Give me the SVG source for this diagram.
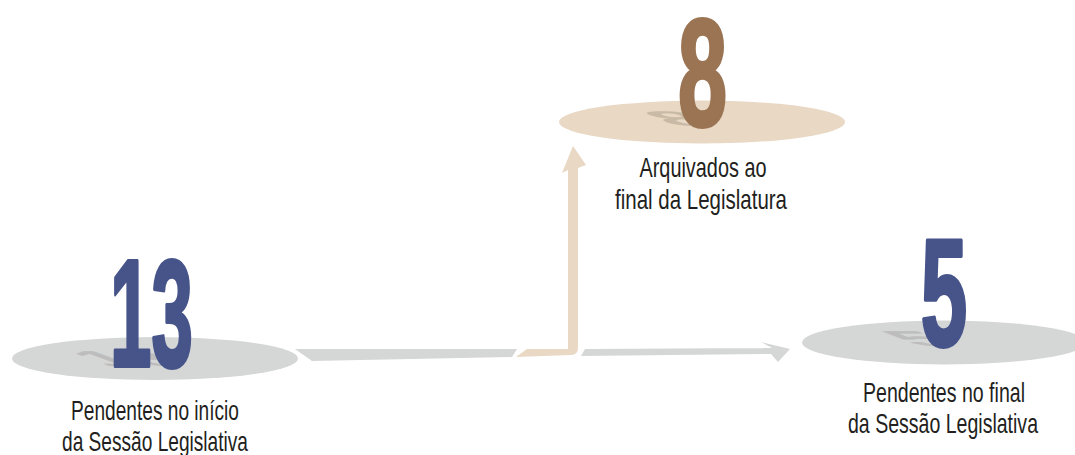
<svg xmlns="http://www.w3.org/2000/svg" width="1075" height="455" viewBox="0 0 1075 455">
  <style>
    .gray { fill: #d5d6d6; }
    .tan { fill: #e8d8c4; }
    .digit { font-family: "Liberation Sans", Arial, sans-serif; font-weight: bold; font-size: 152px; text-anchor: middle; }
    .blue { fill: #46548a; stroke: #46548a; stroke-width: 4; stroke-linejoin: round; }
    .brown { fill: #9a7453; stroke: #9a7453; stroke-width: 4; stroke-linejoin: round; }
    .shadow-g { fill: #b9b9b9; opacity: 0.85; }
    .shadow-t { fill: #c4b5a1; opacity: 0.85; }
    .label { font-family: "Liberation Sans", Arial, sans-serif; font-size: 28px; fill: #231f20; text-anchor: middle; }
  </style>
  <rect width="1075" height="455" fill="#ffffff"/>
  <g id="connectors">
    <path class="gray" d="M 295 349 L 517 349 L 512 357 L 312 361 Z"/>
    <path class="tan" d="M 516 357 L 527 349 L 568 349 L 568 170 L 562 173 L 573 146 L 586 165 L 578 168 L 578 348 Q 578 355 571 355 Z"/>
    <path class="gray" d="M 581 356 L 585 349 L 772 348 L 761 342 L 790 349 L 778 362 L 771 354 Z"/>
  </g>
  <g id="node-start">
    <ellipse class="gray" cx="155" cy="358.5" rx="143" ry="21.5"/>
    <text class="digit shadow-g" transform="translate(148,366) matrix(0.52,0,0.38,0.14,0,0)" x="0" y="0">13</text>
    <text class="digit blue" transform="translate(151.5,366) scale(0.49,1)" x="0" y="0">13</text>
    <text class="label" x="155" y="420" textLength="168" lengthAdjust="spacingAndGlyphs">Pendentes no início</text>
    <text class="label" x="155" y="451" textLength="186" lengthAdjust="spacingAndGlyphs">da Sessão Legislativa</text>
  </g>
  <g id="node-archived">
    <ellipse class="tan" cx="702" cy="122" rx="143" ry="21.5"/>
    <text class="digit shadow-t" transform="translate(699,126) matrix(0.6,0,0.36,0.14,0,0)" x="0" y="0">8</text>
    <text class="digit brown" transform="translate(702.5,126) scale(0.58,1)" x="0" y="0">8</text>
    <text class="label" x="703" y="177" textLength="127" lengthAdjust="spacingAndGlyphs">Arquivados ao</text>
    <text class="label" x="701" y="209" textLength="172" lengthAdjust="spacingAndGlyphs">final da Legislatura</text>
  </g>
  <g id="node-end">
    <ellipse class="gray" cx="944" cy="342.5" rx="142" ry="22"/>
    <text class="digit shadow-g" transform="translate(941,346) matrix(0.56,0,0.4,0.14,0,0)" x="0" y="0">5</text>
    <text class="digit blue" transform="translate(944,346) scale(0.55,1)" x="0" y="0">5</text>
    <text class="label" x="944" y="402" textLength="162" lengthAdjust="spacingAndGlyphs">Pendentes no final</text>
    <text class="label" x="943" y="433" textLength="190" lengthAdjust="spacingAndGlyphs">da Sessão Legislativa</text>
  </g>
</svg>
